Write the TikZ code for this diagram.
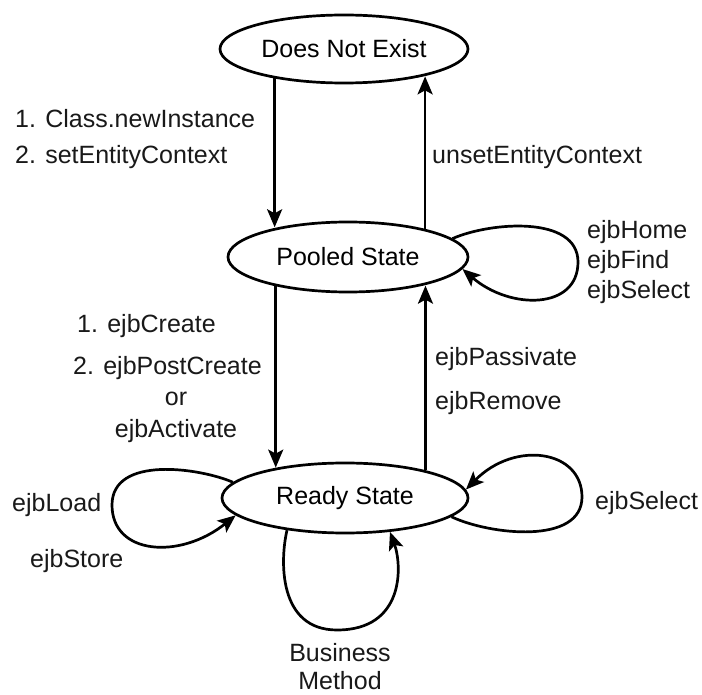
\documentclass[tikz,border=0pt]{standalone}
\usepackage{fontspec}
\setmainfont{Liberation Sans}
\usetikzlibrary{shapes.geometric,arrows.meta}
\begin{document}
\begin{tikzpicture}[x=1pt,y=-1pt,
  state/.style={draw, ellipse, line width=2.7pt, inner sep=0pt},
  trans/.style={line width=2.7pt, -{Stealth[length=18pt,width=15pt,inset=4pt]}},
  lbl/.style={anchor=base west, inner sep=0pt, text=black!90},
  lblc/.style={anchor=base, inner sep=0pt, text=black!90},
  font=\fontsize{25}{30}\selectfont]
\fill[white] (0,0) rectangle (702,695);
\useasboundingbox (0,0) rectangle (702,695);

% states
\node[state, minimum width=248pt, minimum height=68pt] (dne)   at (344,49)  {Does Not Exist};
\node[state, minimum width=240pt, minimum height=70pt] (pool)  at (348,257) {Pooled State};
\node[state, minimum width=246pt, minimum height=70pt] (ready) at (345,498) {Ready State};

% vertical transitions
\draw[trans] (dne.203.6) -- (dne.203.6 |- pool.157.9);
\draw[trans] (pool.20.4) -- (pool.20.4 |- dne.341.3);
\draw[trans] (pool.202.1) -- (pool.202.1 |- ready.156.3);
\draw[trans] (ready.19.5) -- (ready.19.5 |- pool.339.6);

% self transitions
\draw[trans] (pool.10) .. controls (490,222) and (578,215) .. (578,262)
                       .. controls (578,310) and (510,310) .. (pool.-6);
\draw[trans] (ready.-10) .. controls (490,535) and (582,545) .. (582,497)
                         .. controls (582,450) and (515,440) .. (ready.4);
\draw[trans] (ready.172) .. controls (200,468) and (112,455) .. (112,505)
                         .. controls (112,555) and (180,560) .. (ready.189);
\draw[trans] (ready.209) .. controls (280,560) and (278,630) .. (337,630)
                         .. controls (405,630) and (402,565) .. (ready.-37);

% transition labels
\node[lbl] (t1a) at (15,128) {1. Class.newInstance};
\node[lbl] (t1b) at (15,164) {2. setEntityContext};
\node[lbl] (t2)  at (432,164) {unsetEntityContext};
\node[lbl] (t3a) at (587,239) {ejbHome};
\node[lbl] (t3b) at (587,269) {ejbFind};
\node[lbl] (t3c) at (587,299) {ejbSelect};
\node[lbl] (t4a) at (77,332) {1. ejbCreate};
\node[lbl] (t4b) at (73,374) {2. ejbPostCreate};
\node[lblc] (t4c) at (176,405) {or};
\node[lblc] (t4d) at (176,437) {ejbActivate};
\node[lbl] (t5a) at (435,366) {ejbPassivate};
\node[lbl] (t5b) at (435,409) {ejbRemove};
\node[lbl] (t6)  at (12,511) {ejbLoad};
\node[lbl] (t7)  at (30,567) {ejbStore};
\node[lbl] (t8)  at (595,509) {ejbSelect};
\node[lblc] (t9a) at (340,661) {Business};
\node[lblc] (t9b) at (340,689) {Method};
\end{tikzpicture}
\end{document}
